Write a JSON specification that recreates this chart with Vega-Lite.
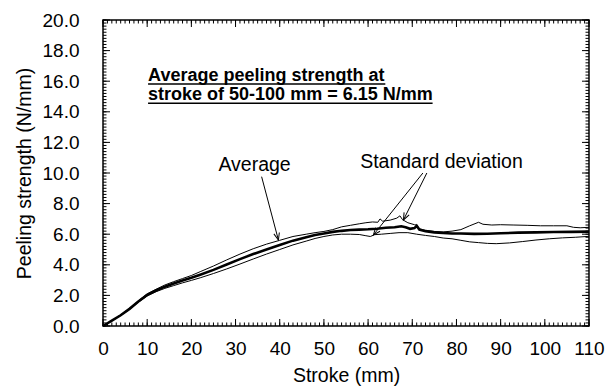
{
  "$schema": "https://vega.github.io/schema/vega-lite/v6.json",
  "width": 486,
  "height": 306,
  "autosize": {"type": "none"},
  "padding": {"left": 103, "top": 20, "right": 17, "bottom": 66},
  "background": "white",
  "config": {
    "view": {"stroke": "black", "strokeWidth": 1.5},
    "font": "Liberation Sans",
    "axis": {
      "domain": false,
      "grid": false,
      "ticks": false,
      "labelFlush": false,
      "labelOverlap": false,
      "labelColor": "black",
      "labelFont": "Liberation Sans",
      "labelFontSize": 19,
      "titleFont": "Liberation Sans",
      "titleFontSize": 19.5,
      "titleFontWeight": "normal",
      "titleColor": "black"
    }
  },
  "datasets": {
    "curves": [
      {"s":0,"v":0,"series":"upper"},{"s":2,"v":0.36,"series":"upper"},{"s":4,"v":0.73,"series":"upper"},{"s":6,"v":1.15,"series":"upper"},{"s":8,"v":1.65,"series":"upper"},{"s":10,"v":2.1,"series":"upper"},{"s":12,"v":2.4,"series":"upper"},{"s":14,"v":2.68,"series":"upper"},{"s":16,"v":2.9,"series":"upper"},{"s":18,"v":3.1,"series":"upper"},{"s":20,"v":3.3,"series":"upper"},{"s":22,"v":3.55,"series":"upper"},{"s":25,"v":3.92,"series":"upper"},{"s":28,"v":4.32,"series":"upper"},{"s":31,"v":4.7,"series":"upper"},{"s":34,"v":5.05,"series":"upper"},{"s":37,"v":5.35,"series":"upper"},{"s":40,"v":5.6,"series":"upper"},{"s":43,"v":5.85,"series":"upper"},{"s":46,"v":6.0,"series":"upper"},{"s":48,"v":6.1,"series":"upper"},{"s":50,"v":6.18,"series":"upper"},{"s":52,"v":6.3,"series":"upper"},{"s":54,"v":6.48,"series":"upper"},{"s":56,"v":6.58,"series":"upper"},{"s":58,"v":6.68,"series":"upper"},{"s":59.5,"v":6.75,"series":"upper"},{"s":61,"v":6.8,"series":"upper"},{"s":62.2,"v":6.78,"series":"upper"},{"s":62.7,"v":7.0,"series":"upper"},{"s":63.3,"v":6.85,"series":"upper"},{"s":65,"v":6.92,"series":"upper"},{"s":66.5,"v":7.05,"series":"upper"},{"s":67.2,"v":7.2,"series":"upper"},{"s":67.8,"v":6.95,"series":"upper"},{"s":69,"v":6.75,"series":"upper"},{"s":70.5,"v":6.62,"series":"upper"},{"s":71,"v":6.6,"series":"upper"},{"s":71.6,"v":6.35,"series":"upper"},{"s":73,"v":6.25,"series":"upper"},{"s":75,"v":6.18,"series":"upper"},{"s":77,"v":6.15,"series":"upper"},{"s":79,"v":6.2,"series":"upper"},{"s":81,"v":6.3,"series":"upper"},{"s":83,"v":6.55,"series":"upper"},{"s":85,"v":6.78,"series":"upper"},{"s":86,"v":6.65,"series":"upper"},{"s":88,"v":6.6,"series":"upper"},{"s":90,"v":6.62,"series":"upper"},{"s":93,"v":6.6,"series":"upper"},{"s":96,"v":6.58,"series":"upper"},{"s":99,"v":6.55,"series":"upper"},{"s":102,"v":6.55,"series":"upper"},{"s":105,"v":6.55,"series":"upper"},{"s":106.5,"v":6.45,"series":"upper"},{"s":108,"v":6.42,"series":"upper"},{"s":110,"v":6.45,"series":"upper"},
      {"s":0,"v":0,"series":"Average"},{"s":2,"v":0.35,"series":"Average"},{"s":4,"v":0.7,"series":"Average"},{"s":6,"v":1.12,"series":"Average"},{"s":8,"v":1.6,"series":"Average"},{"s":10,"v":2.03,"series":"Average"},{"s":12,"v":2.32,"series":"Average"},{"s":14,"v":2.57,"series":"Average"},{"s":16,"v":2.78,"series":"Average"},{"s":18,"v":2.98,"series":"Average"},{"s":20,"v":3.15,"series":"Average"},{"s":22,"v":3.35,"series":"Average"},{"s":25,"v":3.67,"series":"Average"},{"s":28,"v":4.02,"series":"Average"},{"s":31,"v":4.37,"series":"Average"},{"s":34,"v":4.7,"series":"Average"},{"s":37,"v":5.0,"series":"Average"},{"s":40,"v":5.3,"series":"Average"},{"s":43,"v":5.58,"series":"Average"},{"s":46,"v":5.8,"series":"Average"},{"s":48,"v":5.95,"series":"Average"},{"s":50,"v":6.05,"series":"Average"},{"s":52,"v":6.15,"series":"Average"},{"s":54,"v":6.22,"series":"Average"},{"s":56,"v":6.27,"series":"Average"},{"s":58,"v":6.3,"series":"Average"},{"s":60,"v":6.32,"series":"Average"},{"s":62,"v":6.36,"series":"Average"},{"s":64,"v":6.42,"series":"Average"},{"s":66,"v":6.45,"series":"Average"},{"s":67.5,"v":6.52,"series":"Average"},{"s":68.5,"v":6.45,"series":"Average"},{"s":69.5,"v":6.35,"series":"Average"},{"s":70.5,"v":6.4,"series":"Average"},{"s":71,"v":6.55,"series":"Average"},{"s":71.6,"v":6.3,"series":"Average"},{"s":73,"v":6.2,"series":"Average"},{"s":75,"v":6.12,"series":"Average"},{"s":77,"v":6.08,"series":"Average"},{"s":79,"v":6.05,"series":"Average"},{"s":81,"v":6.05,"series":"Average"},{"s":84,"v":6.02,"series":"Average"},{"s":87,"v":6.03,"series":"Average"},{"s":90,"v":6.06,"series":"Average"},{"s":94,"v":6.1,"series":"Average"},{"s":98,"v":6.12,"series":"Average"},{"s":102,"v":6.14,"series":"Average"},{"s":106,"v":6.15,"series":"Average"},{"s":110,"v":6.17,"series":"Average"},
      {"s":0,"v":0,"series":"lower"},{"s":2,"v":0.34,"series":"lower"},{"s":4,"v":0.68,"series":"lower"},{"s":6,"v":1.08,"series":"lower"},{"s":8,"v":1.55,"series":"lower"},{"s":10,"v":1.96,"series":"lower"},{"s":12,"v":2.24,"series":"lower"},{"s":14,"v":2.46,"series":"lower"},{"s":16,"v":2.64,"series":"lower"},{"s":18,"v":2.82,"series":"lower"},{"s":20,"v":2.98,"series":"lower"},{"s":22,"v":3.15,"series":"lower"},{"s":25,"v":3.43,"series":"lower"},{"s":28,"v":3.73,"series":"lower"},{"s":31,"v":4.05,"series":"lower"},{"s":34,"v":4.38,"series":"lower"},{"s":37,"v":4.7,"series":"lower"},{"s":40,"v":5.0,"series":"lower"},{"s":43,"v":5.3,"series":"lower"},{"s":46,"v":5.55,"series":"lower"},{"s":48,"v":5.72,"series":"lower"},{"s":50,"v":5.85,"series":"lower"},{"s":52,"v":5.95,"series":"lower"},{"s":54,"v":6.0,"series":"lower"},{"s":56,"v":6.0,"series":"lower"},{"s":58,"v":5.98,"series":"lower"},{"s":59.5,"v":5.9,"series":"lower"},{"s":60.5,"v":5.85,"series":"lower"},{"s":61.5,"v":5.97,"series":"lower"},{"s":63,"v":6.0,"series":"lower"},{"s":65,"v":6.05,"series":"lower"},{"s":67,"v":6.1,"series":"lower"},{"s":69,"v":6.1,"series":"lower"},{"s":71,"v":6.0,"series":"lower"},{"s":73,"v":5.92,"series":"lower"},{"s":75,"v":5.85,"series":"lower"},{"s":77,"v":5.75,"series":"lower"},{"s":79,"v":5.7,"series":"lower"},{"s":81,"v":5.6,"series":"lower"},{"s":83,"v":5.5,"series":"lower"},{"s":85,"v":5.45,"series":"lower"},{"s":87,"v":5.4,"series":"lower"},{"s":89,"v":5.38,"series":"lower"},{"s":92,"v":5.43,"series":"lower"},{"s":95,"v":5.52,"series":"lower"},{"s":98,"v":5.62,"series":"lower"},{"s":101,"v":5.7,"series":"lower"},{"s":104,"v":5.76,"series":"lower"},{"s":107,"v":5.8,"series":"lower"},{"s":110,"v":5.86,"series":"lower"}
    ],
    "xticks": [{"v":0},{"v":1},{"v":2},{"v":3},{"v":4},{"v":5},{"v":6},{"v":7},{"v":8},{"v":9},{"v":10},{"v":11},{"v":12},{"v":13},{"v":14},{"v":15},{"v":16},{"v":17},{"v":18},{"v":19},{"v":20},{"v":21},{"v":22},{"v":23},{"v":24},{"v":25},{"v":26},{"v":27},{"v":28},{"v":29},{"v":30},{"v":31},{"v":32},{"v":33},{"v":34},{"v":35},{"v":36},{"v":37},{"v":38},{"v":39},{"v":40},{"v":41},{"v":42},{"v":43},{"v":44},{"v":45},{"v":46},{"v":47},{"v":48},{"v":49},{"v":50},{"v":51},{"v":52},{"v":53},{"v":54},{"v":55},{"v":56},{"v":57},{"v":58},{"v":59},{"v":60},{"v":61},{"v":62},{"v":63},{"v":64},{"v":65},{"v":66},{"v":67},{"v":68},{"v":69},{"v":70},{"v":71},{"v":72},{"v":73},{"v":74},{"v":75},{"v":76},{"v":77},{"v":78},{"v":79},{"v":80},{"v":81},{"v":82},{"v":83},{"v":84},{"v":85},{"v":86},{"v":87},{"v":88},{"v":89},{"v":90},{"v":91},{"v":92},{"v":93},{"v":94},{"v":95},{"v":96},{"v":97},{"v":98},{"v":99},{"v":100},{"v":101},{"v":102},{"v":103},{"v":104},{"v":105},{"v":106},{"v":107},{"v":108},{"v":109},{"v":110}],
    "yticks": [{"v":0},{"v":0.2},{"v":0.4},{"v":0.6},{"v":0.8},{"v":1},{"v":1.2},{"v":1.4},{"v":1.6},{"v":1.8},{"v":2},{"v":2.2},{"v":2.4},{"v":2.6},{"v":2.8},{"v":3},{"v":3.2},{"v":3.4},{"v":3.6},{"v":3.8},{"v":4},{"v":4.2},{"v":4.4},{"v":4.6},{"v":4.8},{"v":5},{"v":5.2},{"v":5.4},{"v":5.6},{"v":5.8},{"v":6},{"v":6.2},{"v":6.4},{"v":6.6},{"v":6.8},{"v":7},{"v":7.2},{"v":7.4},{"v":7.6},{"v":7.8},{"v":8},{"v":8.2},{"v":8.4},{"v":8.6},{"v":8.8},{"v":9},{"v":9.2},{"v":9.4},{"v":9.6},{"v":9.8},{"v":10},{"v":10.2},{"v":10.4},{"v":10.6},{"v":10.8},{"v":11},{"v":11.2},{"v":11.4},{"v":11.6},{"v":11.8},{"v":12},{"v":12.2},{"v":12.4},{"v":12.6},{"v":12.8},{"v":13},{"v":13.2},{"v":13.4},{"v":13.6},{"v":13.8},{"v":14},{"v":14.2},{"v":14.4},{"v":14.6},{"v":14.8},{"v":15},{"v":15.2},{"v":15.4},{"v":15.6},{"v":15.8},{"v":16},{"v":16.2},{"v":16.4},{"v":16.6},{"v":16.8},{"v":17},{"v":17.2},{"v":17.4},{"v":17.6},{"v":17.8},{"v":18},{"v":18.2},{"v":18.4},{"v":18.6},{"v":18.8},{"v":19},{"v":19.2},{"v":19.4},{"v":19.6},{"v":19.8},{"v":20}],
    "arrows": [
      {"name":"avg","x":35.9,"y":9.76,"x2":39.7,"y2":5.62},
      {"name":"sdL","x":72.4,"y":10.0,"x2":61.2,"y2":5.95},
      {"name":"sdR","x":73.3,"y":10.0,"x2":68.0,"y2":6.93}
    ],
    "labels": [
      {"text":"Average","x":34.3,"y":10.12,"pos":"center"},
      {"text":"Standard deviation","x":58.2,"y":10.3,"pos":"left"}
    ],
    "bold": [
      {"text":"Average peeling strength at","x":10.2,"y":16.0},
      {"text":"stroke of 50-100 mm = 6.15 N/mm","x":10.2,"y":14.77}
    ],
    "underlines": [
      {"x":10.2,"x2":63.9,"y":15.82},
      {"x":10.2,"x2":74.6,"y":14.56}
    ]
  },
  "resolve": {"axis": {"x": "independent", "y": "independent"}},
  "layer": [
    {
      "data": {"name": "curves"},
      "transform": [{"filter": "datum.series !== 'Average'"}],
      "mark": {"type": "line", "color": "black", "strokeWidth": 1},
      "encoding": {
        "x": {"field": "s", "type": "quantitative", "scale": {"domain": [0, 110], "nice": false},
          "axis": {"orient": "bottom", "title": "Stroke (mm)", "values": [0,10,20,30,40,50,60,70,80,90,100,110], "labelPadding": 13, "titlePadding": 8}},
        "y": {"field": "v", "type": "quantitative", "scale": {"domain": [0, 20], "nice": false},
          "axis": {"orient": "left", "title": "Peeling strength (N/mm)", "values": [0,2,4,6,8,10,12,14,16,18,20], "format": ".1f", "labelPadding": 24, "titlePadding": 8}},
        "detail": {"field": "series"}
      }
    },
    {
      "data": {"name": "curves"},
      "transform": [{"filter": "datum.series === 'Average'"}],
      "mark": {"type": "line", "color": "black", "strokeWidth": 2.6},
      "encoding": {
        "x": {"field": "s", "type": "quantitative", "axis": null},
        "y": {"field": "v", "type": "quantitative", "axis": null}
      }
    },
    {
      "data": {"name": "xticks"},
      "mark": {"type": "rule", "color": "black", "strokeWidth": 1},
      "encoding": {"x": {"field": "v", "type": "quantitative", "axis": null}, "y": {"datum": 0, "type": "quantitative", "axis": null}, "y2": {"datum": 0.229}}
    },
    {
      "data": {"name": "xticks"},
      "mark": {"type": "rule", "color": "black", "strokeWidth": 1},
      "encoding": {"x": {"field": "v", "type": "quantitative", "axis": null}, "y": {"datum": 20, "type": "quantitative", "axis": null}, "y2": {"datum": 19.771}}
    },
    {
      "data": {"name": "xticks"},
      "transform": [{"filter": "datum.v % 10 === 0"}],
      "mark": {"type": "rule", "color": "black", "strokeWidth": 1},
      "encoding": {"x": {"field": "v", "type": "quantitative", "axis": null}, "y": {"datum": 0, "type": "quantitative", "axis": null}, "y2": {"datum": 0.458}}
    },
    {
      "data": {"name": "xticks"},
      "transform": [{"filter": "datum.v % 10 === 0"}],
      "mark": {"type": "rule", "color": "black", "strokeWidth": 1},
      "encoding": {"x": {"field": "v", "type": "quantitative", "axis": null}, "y": {"datum": 20, "type": "quantitative", "axis": null}, "y2": {"datum": 19.542}}
    },
    {
      "data": {"name": "yticks"},
      "mark": {"type": "rule", "color": "black", "strokeWidth": 1},
      "encoding": {"y": {"field": "v", "type": "quantitative", "axis": null}, "x": {"datum": 0, "type": "quantitative", "axis": null}, "x2": {"datum": 0.792}}
    },
    {
      "data": {"name": "yticks"},
      "mark": {"type": "rule", "color": "black", "strokeWidth": 1},
      "encoding": {"y": {"field": "v", "type": "quantitative", "axis": null}, "x": {"datum": 110, "type": "quantitative", "axis": null}, "x2": {"datum": 109.208}}
    },
    {
      "data": {"name": "yticks"},
      "transform": [{"filter": "datum.v % 2 === 0"}],
      "mark": {"type": "rule", "color": "black", "strokeWidth": 1},
      "encoding": {"y": {"field": "v", "type": "quantitative", "axis": null}, "x": {"datum": 0, "type": "quantitative", "axis": null}, "x2": {"datum": 1.584}}
    },
    {
      "data": {"name": "yticks"},
      "transform": [{"filter": "datum.v % 2 === 0"}],
      "mark": {"type": "rule", "color": "black", "strokeWidth": 1},
      "encoding": {"y": {"field": "v", "type": "quantitative", "axis": null}, "x": {"datum": 110, "type": "quantitative", "axis": null}, "x2": {"datum": 108.416}}
    },
    {
      "data": {"name": "arrows"},
      "mark": {"type": "rule", "color": "black", "strokeWidth": 1},
      "encoding": {
        "x": {"field": "x", "type": "quantitative", "axis": null},
        "y": {"field": "y", "type": "quantitative", "axis": null},
        "x2": {"field": "x2"},
        "y2": {"field": "y2"}
      }
    },
    {
      "data": {"name": "underlines"},
      "mark": {"type": "rule", "color": "black", "strokeWidth": 1.5},
      "encoding": {
        "x": {"field": "x", "type": "quantitative", "axis": null},
        "y": {"field": "y", "type": "quantitative", "axis": null},
        "x2": {"field": "x2"}
      }
    },
    {
      "data": {"name": "bold"},
      "mark": {"type": "text", "align": "left", "baseline": "alphabetic", "fontSize": 18, "fontWeight": "bold", "font": "Liberation Sans", "color": "black"},
      "encoding": {
        "x": {"field": "x", "type": "quantitative", "axis": null},
        "y": {"field": "y", "type": "quantitative", "axis": null},
        "text": {"field": "text"}
      }
    },
    {
      "data": {"name": "labels"},
      "transform": [{"filter": "datum.pos === 'center'"}],
      "mark": {"type": "text", "align": "center", "baseline": "alphabetic", "fontSize": 19.5, "font": "Liberation Sans", "color": "black"},
      "encoding": {
        "x": {"field": "x", "type": "quantitative", "axis": null},
        "y": {"field": "y", "type": "quantitative", "axis": null},
        "text": {"field": "text"}
      }
    },
    {
      "data": {"name": "labels"},
      "transform": [{"filter": "datum.pos === 'left'"}],
      "mark": {"type": "text", "align": "left", "baseline": "alphabetic", "fontSize": 19.5, "font": "Liberation Sans", "color": "black"},
      "encoding": {
        "x": {"field": "x", "type": "quantitative", "axis": null},
        "y": {"field": "y", "type": "quantitative", "axis": null},
        "text": {"field": "text"}
      }
    },
    {
      "data": {"name": "arrows"},
      "transform": [{"filter": "datum.name === 'avg'"}],
      "mark": {"type": "point", "shape": "M-0.4,-1L0,0L0.4,-1", "filled": false, "stroke": "black", "strokeWidth": 1, "size": 200, "angle": 345.3, "opacity": 1},
      "encoding": {
        "x": {"field": "x2", "type": "quantitative", "axis": null},
        "y": {"field": "y2", "type": "quantitative", "axis": null}
      }
    },
    {
      "data": {"name": "arrows"},
      "transform": [{"filter": "datum.name === 'sdL'"}],
      "mark": {"type": "point", "shape": "M-0.4,-1L0,0L0.4,-1", "filled": false, "stroke": "black", "strokeWidth": 1, "size": 200, "angle": 38.7, "opacity": 1},
      "encoding": {
        "x": {"field": "x2", "type": "quantitative", "axis": null},
        "y": {"field": "y2", "type": "quantitative", "axis": null}
      }
    },
    {
      "data": {"name": "arrows"},
      "transform": [{"filter": "datum.name === 'sdR'"}],
      "mark": {"type": "point", "shape": "M-0.4,-1L0,0L0.4,-1", "filled": false, "stroke": "black", "strokeWidth": 1, "size": 200, "angle": 26.8, "opacity": 1},
      "encoding": {
        "x": {"field": "x2", "type": "quantitative", "axis": null},
        "y": {"field": "y2", "type": "quantitative", "axis": null}
      }
    }
  ]
}
